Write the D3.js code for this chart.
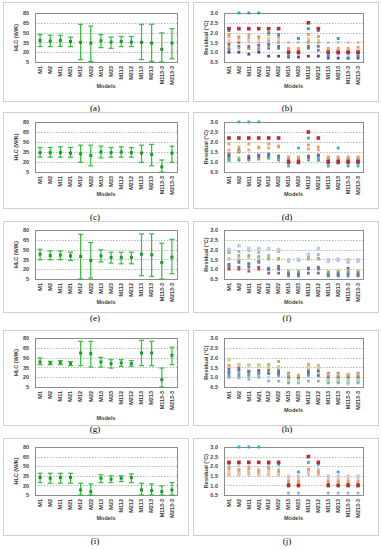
<!DOCTYPE html>
<html>
<head>
<meta charset="utf-8">
<script src="https://cdn.jsdelivr.net/npm/d3@7"></script>
<style>
body { margin: 0; background: #fff; }
text { font-family: "Liberation Sans", Arial, sans-serif; }
</style>
</head>
<body>
<svg width="382" height="550"></svg>
<script>
var models = ["M1","M2","M11","M21","M12","M22","M13","M23","M112","M212","M113","M213","M113-3","M213-3"];
var hlcTicks = [5, 20, 35, 50, 65, 80];
var resTicks = [0.5, 1.0, 1.5, 2.0, 2.5, 3.0];

// HLC (W/K) estimates with lower / upper bounds, one set per panel
var hlcA    = [38, 37, 38, 36.5, 35, 34, 37.5, 35.4, 36.5, 35.4, 35, 34, 24.4, 34];
var hlcA_lo = [28.6, 28.5, 29, 28.6, 8.7, 6, 27, 26, 28.6, 28.6, 8.7, 6, 5, 10];
var hlcA_hi = [47, 46, 46, 43, 62.7, 60, 47, 43, 44, 44, 62.7, 62.7, 49.6, 56];

var hlcC    = [34, 34, 34, 33.4, 32.4, 29.8, 35, 34, 35, 34, 33.4, 31.4, 12.7, 33.4];
var hlcC_lo = [27.2, 27.2, 27.2, 27.2, 19.5, 14.3, 26.2, 27.2, 27.2, 27.2, 19.5, 14.3, 5, 19.5];
var hlcC_hi = [41.7, 41.7, 42.8, 41.7, 45.3, 45.3, 43.8, 41.7, 42.8, 41.7, 45.3, 46.4, 23, 43.8];

var hlcE    = [43, 41, 41.5, 40.5, 39.5, 33.4, 40.5, 38, 38, 38, 43, 42, 30.3, 38.4];
var hlcE_lo = [34.4, 34.4, 34.4, 33.4, 5, 6.5, 31, 29.3, 28.3, 28.3, 10, 9, 5, 13];
var hlcE_hi = [50.6, 48, 48, 46, 73.4, 60.7, 49.6, 46, 46, 46, 74, 74, 59.7, 65.8];

var hlcG    = [43.3, 41.7, 42.2, 40.7, 57, 56, 43.3, 40.7, 41.7, 40.7, 57, 57, 16.2, 53.5];
var hlcG_lo = [39.2, 39.2, 39.2, 37.7, 37.7, 35.6, 35.6, 34, 36.6, 36.6, 37.7, 37.7, 5, 39.2];
var hlcG_hi = [49.4, 44.3, 45.3, 43.8, 75, 75, 50.4, 46.8, 46.8, 45.3, 76.4, 75, 34, 66];

var hlcI    = [32.3, 31.2, 32.3, 32.3, 12.9, 10.3, 31.2, 29.7, 31.2, 32.3, 12.9, 11.8, 10.3, 12.9];
var hlcI_lo = [24.4, 23.4, 23.4, 23.4, 5, 5, 24.4, 24.4, 26, 24.4, 5, 5, 5, 5];
var hlcI_hi = [39, 39, 39, 39, 23.4, 22.3, 36.5, 35, 35, 38, 23.4, 22.3, 19.2, 24.4];

// Residual (°C) series, one row per series
var resB = [
  [2.2, 2.2, 2.2, 2.2, 2.2, 2.2, 1.0, 1.0, 2.5, 2.2, 1.0, 1.0, 1.0, 1.0],
  [2.1, 3.0, 3.0, 3.0, 2.0, 1.9, 0.8, 1.7, 2.2, 2.1, 0.8, 1.7, 0.7, 0.8],
  [1.9, 1.75, 1.9, 1.75, 1.9, 1.8, 1.2, 1.2, 1.9, 1.8, 1.2, 1.2, 1.2, 1.25],
  [1.6, 1.6, 1.6, 1.6, 1.7, 1.7, 1.1, 1.1, 1.7, 1.6, 1.1, 1.1, 1.1, 1.1],
  [1.8, 1.8, 1.75, 1.8, 1.6, 1.5, 0.9, 0.9, 1.6, 1.8, 0.9, 0.9, 0.9, 0.9],
  [1.4, 1.5, 1.3, 1.35, 1.4, 1.3, 1.05, 1.05, 1.3, 1.3, 1.05, 1.05, 1.05, 1.05],
  [1.25, 1.2, 1.2, 1.2, 1.3, 1.5, 1.0, 1.0, 1.5, 1.5, 1.0, 1.0, 1.0, 1.0],
  [1.15, 1.3, 1.2, 1.15, 1.2, 1.2, 0.95, 0.95, 1.2, 1.1, 0.95, 0.95, 0.95, 0.95],
  [1.0, 1.0, 0.9, 1.0, 0.8, 0.8, 0.75, 0.75, 0.8, 0.8, 0.7, 0.7, 0.7, 0.7],
  [1.5, 1.5, 1.5, 1.5, 1.55, 1.55, 1.5, 1.5, 1.55, 1.55, 1.5, 1.5, 1.5, 1.5]
];
var resD = [
  [2.2, 2.2, 2.2, 2.2, 2.2, 2.2, 1.0, 1.0, 2.5, 2.2, 1.0, 1.0, 1.0, 1.0],
  [1.1, 3.0, 3.0, 3.0, 1.25, 1.2, 0.8, 1.7, 2.2, 1.1, 0.8, 1.7, 0.8, 0.8],
  [1.9, 1.75, 1.9, 1.75, 1.9, 1.8, 1.25, 1.25, 1.85, 1.75, 1.25, 1.25, 1.25, 1.25],
  [1.6, 1.55, 1.6, 1.7, 1.7, 1.75, 1.2, 1.2, 1.65, 1.6, 1.2, 1.2, 1.2, 1.2],
  [1.4, 1.5, 1.3, 1.35, 1.4, 1.3, 1.05, 1.05, 1.3, 1.3, 1.05, 1.05, 1.05, 1.05],
  [1.3, 1.6, 1.2, 1.3, 1.3, 1.25, 1.1, 1.1, 1.25, 1.35, 1.1, 1.1, 1.1, 1.1],
  [1.2, 1.2, 1.15, 1.2, 1.2, 1.15, 1.15, 1.15, 1.15, 1.2, 1.15, 1.15, 1.15, 1.15],
  [1.1, 1.1, 1.1, 1.15, 1.2, 1.1, 0.95, 0.95, 1.1, 1.1, 0.95, 0.95, 0.95, 0.95]
];
var resF = [
  [2.0, 2.2, 2.05, 2.05, 2.05, 2.0, 1.45, 1.5, 1.75, 2.05, 1.45, 1.5, 1.4, 1.45],
  [1.85, 1.9, 1.95, 1.85, 1.7, 1.9, 1.4, 1.45, 1.65, 1.75, 1.4, 1.45, 1.35, 1.4],
  [1.85, 1.7, 1.7, 1.65, 1.55, 1.55, 0.9, 0.9, 1.55, 1.55, 0.85, 0.9, 0.9, 0.9],
  [1.55, 1.55, 1.55, 1.55, 1.5, 1.5, 1.5, 1.5, 1.5, 1.5, 1.5, 1.5, 1.5, 1.5],
  [1.5, 1.6, 1.65, 1.6, 1.55, 1.5, 1.45, 1.45, 1.55, 1.55, 1.45, 1.45, 1.45, 1.45],
  [1.25, 1.35, 1.25, 1.35, 1.05, 1.15, 0.75, 0.7, 1.05, 1.1, 0.7, 0.7, 0.75, 0.7],
  [1.1, 1.1, 1.1, 1.1, 1.0, 1.0, 0.85, 0.85, 1.05, 1.05, 0.85, 0.85, 0.85, 0.85],
  [1.0, 1.0, 0.9, 1.0, 0.8, 0.8, 0.75, 0.75, 0.8, 0.8, 0.75, 0.75, 1.05, 0.75],
  [1.2, 1.45, 1.3, 1.4, 1.0, 1.1, 0.65, 0.65, 1.0, 1.0, 0.65, 0.65, 0.65, 0.65]
];
var resH = [
  [1.9, 1.65, 1.6, 1.6, 1.5, 1.5, 0.85, 0.8, 1.5, 1.5, 0.85, 0.85, 0.8, 0.85],
  [1.6, 1.6, 1.6, 1.6, 1.65, 1.8, 1.1, 1.1, 1.65, 1.6, 1.1, 1.1, 1.1, 1.1],
  [1.55, 1.65, 1.65, 1.65, 1.5, 1.55, 1.15, 1.1, 1.6, 1.55, 1.15, 1.15, 1.15, 1.15],
  [1.4, 1.45, 1.3, 1.35, 1.4, 1.3, 1.2, 1.05, 1.3, 1.3, 1.2, 1.2, 1.15, 1.2],
  [1.25, 1.35, 1.3, 1.3, 1.2, 1.2, 1.0, 1.0, 1.2, 1.1, 1.0, 1.0, 1.0, 1.0],
  [1.1, 1.1, 1.1, 1.15, 1.2, 1.1, 0.75, 0.75, 1.1, 1.1, 0.75, 0.75, 0.75, 0.75],
  [1.2, 1.2, 1.2, 1.2, 1.3, 1.4, 1.0, 1.0, 1.4, 1.4, 1.0, 1.0, 1.0, 1.0],
  [1.0, 1.0, 0.9, 1.0, 0.8, 0.8, 0.8, 0.8, 0.8, 0.8, 0.8, 0.8, 0.8, 0.8],
  [1.0, 0.95, 1.05, 1.0, 1.0, 1.05, 0.7, 0.7, 1.05, 1.0, 0.7, 0.7, 0.65, 0.7]
];
var resJ = [
  [2.2, 2.2, 2.2, 2.2, 2.2, 2.2, 1.0, 1.0, 2.5, 2.2, 1.0, 1.0, 1.0, 1.0],
  [2.15, 3.0, 3.0, 3.0, 2.15, 2.1, 1.05, 1.7, 2.2, 2.1, 1.05, 1.7, 1.05, 1.05],
  [1.9, 1.8, 1.9, 1.75, 1.9, 1.75, 1.2, 1.2, 1.85, 1.7, 1.2, 1.2, 1.2, 1.2],
  [1.75, 1.75, 1.8, 1.7, 1.75, 1.7, 1.3, 1.3, 1.75, 1.75, 1.3, 1.3, 1.3, 1.3],
  [2.0, 2.05, 2.0, 1.85, 2.0, 1.85, 1.4, 1.4, 1.75, 1.85, 1.4, 1.4, 1.4, 1.4],
  [1.55, 1.55, 1.55, 1.55, 1.55, 1.55, 1.5, 1.5, 1.55, 1.55, 1.5, 1.5, 1.5, 1.5],
  [1.6, 1.65, 1.6, 1.6, 1.6, 1.6, 0.95, 0.95, 1.6, 1.55, 0.95, 0.95, 0.95, 0.95],
  [1.6, 1.6, 1.65, 1.65, 1.6, 1.6, 0.6, 0.6, 1.6, 1.6, 0.6, 0.6, 0.6, 0.6],
  [1.8, 1.85, 1.75, 1.8, 1.8, 1.8, 1.1, 1.1, 1.8, 1.8, 1.1, 1.1, 1.1, 1.1]
];

var colB = ["#c0282d","#1f9bc8","#f79646","#fac090","#95b3d7","#8064a2","#9bbb59","#4f81bd","#7030a0","#e6b9b8"];
var colD = ["#c0282d","#31b0d0","#f79646","#f7a35c","#8064a2","#604a9b","#9bbb59","#31a0b8"];
var colF = ["#b9cde5","#95b3d7","#9bbb59","#e6b9b8","#fac090","#4f81bd","#c0504d","#8064a2","#4bacc6"];
var colH = ["#c3d69b","#f79646","#fac090","#8064a2","#4f81bd","#4bacc6","#9bbb59","#b3a2c7","#b9cde5"];
var colJ = ["#c0282d","#1fb0d8","#f79646","#fac090","#b9cde5","#e6b9b8","#c3d69b","#95b3d7","#ccc0da"];

// row geometry: plot top/bottom, frame top/bottom, "Models" y, caption y
var rows = [
  {pt: 13,  pb: 62,  ft: 2,   fb: 101, my: [88, 88],   cy: 111},
  {pt: 122, pb: 172, ft: 112, fb: 208, my: [196, 196], cy: 220},
  {pt: 230, pb: 279, ft: 221, fb: 312, my: [304, 304], cy: 321},
  {pt: 338, pb: 387, ft: 330, fb: 425, my: [420, 412], cy: 432},
  {pt: 447, pb: 495, ft: 438, fb: 535, my: [520, 520], cy: 544}
];
var cols = [
  {fl: 3,   fr: 188, pl: 35,  pr: 177, tx: 18,  cx: 95},
  {fl: 193, fr: 378, pl: 224, pr: 363, tx: 208, cx: 287}
];

var svg = d3.select("svg");

function frame(r, c, yDomain, ticks, fmt, title, caption, mi) {
  var g = svg.append("g");
  g.append("rect")
    .attr("x", c.fl + 0.5).attr("y", r.ft + 0.5)
    .attr("width", c.fr - c.fl).attr("height", r.fb - r.ft)
    .attr("fill", "#fff").attr("stroke", "#d0d0d0").attr("stroke-width", 1);

  var x = d3.scaleBand().domain(models).range([c.pl, c.pr]);
  var y = d3.scaleLinear().domain(yDomain).range([r.pb, r.pt]);

  // gridlines
  g.selectAll(".grid").data(ticks).enter().append("line")
    .attr("x1", c.pl).attr("x2", c.pr)
    .attr("y1", function(d) { return Math.round(y(d)) + 0.5; })
    .attr("y2", function(d) { return Math.round(y(d)) + 0.5; })
    .attr("stroke", "#a6a6a6").attr("stroke-width", 0.8)
    .attr("stroke-dasharray", "1.5,1.5");

  g.append("rect")
    .attr("x", c.pl + 0.5).attr("y", r.pt + 0.5)
    .attr("width", c.pr - c.pl).attr("height", r.pb - r.pt)
    .attr("fill", "none").attr("stroke", "#8c8c8c").attr("stroke-width", 1);

  var ya = g.append("g")
    .attr("transform", "translate(" + (c.pl - 3) + ",0)")
    .call(d3.axisLeft(y).tickValues(ticks).tickSize(0).tickFormat(fmt));
  ya.select(".domain").remove();
  ya.selectAll("text")
    .attr("font-family", "Liberation Sans").attr("font-size", 5.5)
    .attr("font-weight", "bold").attr("fill", "#404040");

  var xa = g.append("g")
    .attr("transform", "translate(0," + (r.pb + 3) + ")")
    .call(d3.axisBottom(x).tickSize(0));
  xa.select(".domain").remove();
  xa.selectAll("text")
    .attr("font-family", "Liberation Sans").attr("font-size", 5.5)
    .attr("font-weight", "bold").attr("fill", "#404040")
    .attr("transform", "rotate(-90)")
    .attr("text-anchor", "end")
    .attr("dy", "0.32em").attr("dx", 0).attr("y", 0).attr("x", -1);

  g.append("text")
    .attr("transform", "translate(" + c.tx + "," + ((r.pt + r.pb) / 2) + ") rotate(-90)")
    .attr("text-anchor", "middle")
    .attr("font-size", 5.5).attr("font-weight", "bold").attr("fill", "#404040")
    .text(title);

  g.append("text")
    .attr("x", (c.pl + c.pr) / 2).attr("y", r.my[mi])
    .attr("text-anchor", "middle")
    .attr("font-size", 5.5).attr("font-weight", "bold").attr("fill", "#404040")
    .text("Models");

  svg.append("text")
    .attr("x", c.cx).attr("y", r.cy)
    .attr("text-anchor", "middle")
    .style("font-family", "'Liberation Serif', 'Times New Roman', serif")
    .attr("font-size", 9).attr("fill", "#000")
    .text(caption);

  return {g: g, x: x, y: y};
}

function hlcPanel(ri, mid, lo, hi, caption) {
  var p = frame(rows[ri], cols[0], [5, 80], hlcTicks, d3.format("d"), "HLC (W/K)", caption, 0);
  var x = p.x, y = p.y;
  var bar = p.g.selectAll(".bar").data(models).enter().append("g")
    .attr("transform", function(d) { return "translate(" + (x(d) + x.bandwidth() / 2) + ",0)"; });
  bar.append("line")
    .attr("y1", function(d, i) { return y(lo[i]); })
    .attr("y2", function(d, i) { return y(hi[i]); })
    .attr("stroke", "#2fbf3a").attr("stroke-width", 1.2);
  bar.append("line").attr("x1", -2.5).attr("x2", 2.5)
    .attr("y1", function(d, i) { return y(lo[i]); })
    .attr("y2", function(d, i) { return y(lo[i]); })
    .attr("stroke", "#2fbf3a").attr("stroke-width", 1.2);
  bar.append("line").attr("x1", -2.5).attr("x2", 2.5)
    .attr("y1", function(d, i) { return y(hi[i]); })
    .attr("y2", function(d, i) { return y(hi[i]); })
    .attr("stroke", "#2fbf3a").attr("stroke-width", 1.2);
  bar.append("rect")
    .attr("x", -1.5).attr("width", 3).attr("height", 3)
    .attr("y", function(d, i) { return y(mid[i]) - 1.5; })
    .attr("fill", "#1a9a2a");
}

function resPanel(ri, series, colors, caption, mi) {
  var p = frame(rows[ri], cols[1], [0.5, 3.0], resTicks, d3.format(".1f"), "Residual (°C)", caption, mi);
  var x = p.x, y = p.y;
  series.slice().reverse().forEach(function(s, k) {
    var si = series.length - 1 - k;
    var sz = si === 0 ? 3.6 : 2.8;
    p.g.selectAll(".s" + si).data(s).enter().append("rect")
      .attr("x", function(d, i) { return x(models[i]) + x.bandwidth() / 2 - sz / 2; })
      .attr("y", function(d) { return y(d) - sz / 2; })
      .attr("width", sz).attr("height", sz)
      .attr("fill", colors[si]);
  });
}

hlcPanel(0, hlcA, hlcA_lo, hlcA_hi, "(a)");
hlcPanel(1, hlcC, hlcC_lo, hlcC_hi, "(c)");
hlcPanel(2, hlcE, hlcE_lo, hlcE_hi, "(e)");
hlcPanel(3, hlcG, hlcG_lo, hlcG_hi, "(g)");
hlcPanel(4, hlcI, hlcI_lo, hlcI_hi, "(i)");

resPanel(0, resB, colB, "(b)", 1);
resPanel(1, resD, colD, "(d)", 1);
resPanel(2, resF, colF, "(f)", 1);
resPanel(3, resH, colH, "(h)", 1);
resPanel(4, resJ, colJ, "(j)", 1);
</script>
</body>
</html>
